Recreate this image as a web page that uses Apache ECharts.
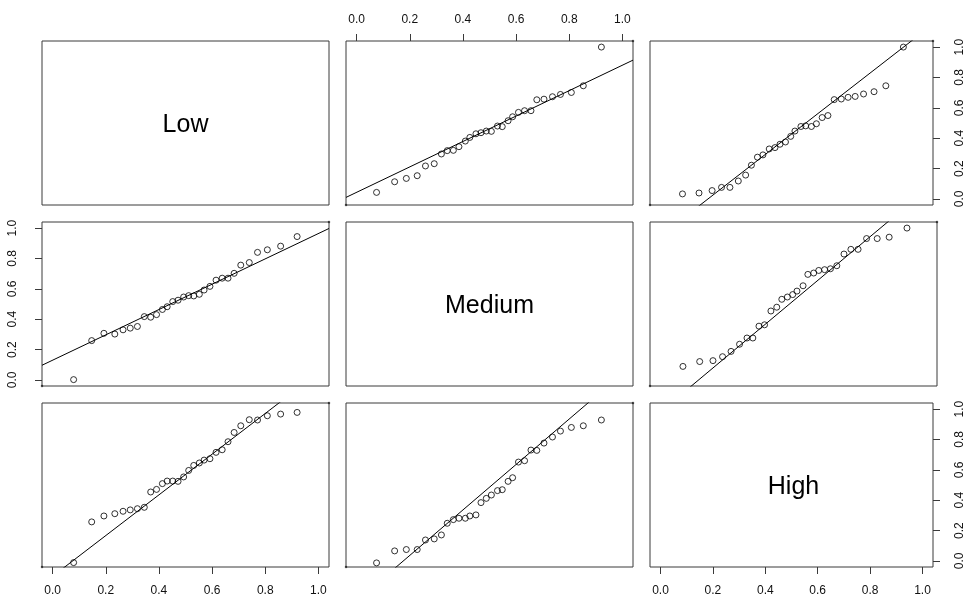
<!DOCTYPE html>
<html>
<head>
<meta charset="utf-8">
<script src="https://cdn.jsdelivr.net/npm/echarts@6/dist/echarts.min.js"></script>
<style>
html,body{margin:0;padding:0;background:#fff;}
#chart{width:966px;height:598px;}
</style>
</head>
<body>
<div id="chart"></div>
<script>
// ---- data ----
const variables = ['Low', 'Medium', 'High'];
const tickValues = [0, 0.2, 0.4, 0.6, 0.8, 1.0];
const axisRange = [-0.04, 1.04];

// x positions (sorted quantiles) shared by each column
const xLow = [0.079,0.147,0.193,0.234,0.265,0.292,0.319,0.345,0.369,0.391,0.413,0.431,0.452,0.472,0.493,0.512,0.531,0.552,0.570,0.592,0.615,0.638,0.660,0.683,0.708,0.740,0.771,0.808,0.858,0.920];
const xMedium = [0.075,0.143,0.187,0.228,0.259,0.292,0.319,0.341,0.364,0.385,0.409,0.426,0.449,0.468,0.488,0.507,0.530,0.548,0.570,0.587,0.609,0.632,0.656,0.678,0.705,0.737,0.767,0.808,0.853,0.921];
const xHigh = [0.084,0.147,0.197,0.233,0.265,0.297,0.325,0.347,0.370,0.391,0.415,0.437,0.456,0.477,0.497,0.513,0.536,0.554,0.576,0.595,0.617,0.639,0.663,0.690,0.716,0.743,0.775,0.815,0.860,0.927];

// y values per off-diagonal panel
const yLowVsMedium = [0.043,0.113,0.135,0.153,0.217,0.232,0.296,0.318,0.320,0.344,0.381,0.405,0.429,0.436,0.447,0.445,0.480,0.476,0.515,0.541,0.570,0.581,0.581,0.653,0.657,0.673,0.688,0.701,0.745,1.000];
const yLowVsHigh = [0.033,0.039,0.055,0.076,0.076,0.118,0.157,0.222,0.275,0.290,0.329,0.338,0.360,0.375,0.412,0.447,0.477,0.481,0.477,0.495,0.536,0.549,0.654,0.658,0.669,0.675,0.691,0.706,0.745,1.000];
const yMediumVsLow = [0.002,0.259,0.307,0.302,0.330,0.341,0.352,0.417,0.413,0.430,0.464,0.482,0.516,0.525,0.546,0.555,0.553,0.564,0.592,0.616,0.657,0.670,0.670,0.702,0.756,0.773,0.840,0.857,0.881,0.944];
const yMediumVsHigh = [0.089,0.121,0.127,0.153,0.188,0.235,0.276,0.276,0.354,0.363,0.454,0.479,0.531,0.546,0.562,0.585,0.620,0.695,0.704,0.721,0.726,0.732,0.752,0.829,0.860,0.860,0.931,0.931,0.940,1.000];
const yHighVsLow = [-0.011,0.257,0.296,0.311,0.327,0.336,0.344,0.353,0.454,0.471,0.509,0.526,0.526,0.524,0.553,0.596,0.629,0.645,0.664,0.673,0.715,0.732,0.785,0.846,0.890,0.930,0.928,0.956,0.967,0.978];
const yHighVsMedium = [-0.013,0.066,0.075,0.075,0.138,0.145,0.171,0.248,0.272,0.281,0.281,0.296,0.303,0.384,0.412,0.434,0.463,0.469,0.524,0.548,0.651,0.660,0.730,0.728,0.776,0.816,0.855,0.879,0.890,0.928];

// reference line of each panel: [intercept, slope]
const lineLowVsMedium = [0.0435, 0.837];
const lineLowVsHigh = [-0.243, 1.34];
const lineMediumVsLow = [0.13, 0.834];
const lineMediumVsHigh = [-0.209, 1.462];
const lineHighVsLow = [-0.101, 1.34];
const lineHighVsMedium = [-0.263, 1.497];

// tiny marks sitting at the panel corners
const cornerMarks = [-0.04, 1.04];

// ---- layout ----
const colLeft = [42, 346, 650];
const rowTop = [41, 222, 403];
const panelW = 287, panelH = 164;

const xCols = [xLow, xMedium, xHigh];
const panels = {
  '0-1': [yLowVsMedium, lineLowVsMedium],
  '0-2': [yLowVsHigh, lineLowVsHigh],
  '1-0': [yMediumVsLow, lineMediumVsLow],
  '1-2': [yMediumVsHigh, lineMediumVsHigh],
  '2-0': [yHighVsLow, lineHighVsLow],
  '2-1': [yHighVsMedium, lineHighVsMedium]
};

const FONT = '"Liberation Sans", Arial, sans-serif';
const grids = [], xAxes = [], yAxes = [], series = [], graphics = [];

function fmt(v) { return v.toFixed(1); }

let idx = 0;
for (let r = 0; r < 3; r++) {
  for (let c = 0; c < 3; c++) {
    grids.push({
      left: colLeft[c], top: rowTop[r], width: panelW, height: panelH,
      show: true, borderColor: '#3a3a3a', borderWidth: 1, backgroundColor: 'transparent',
      containLabel: false
    });
    let xPos = null;
    if (r === 0 && c === 1) xPos = 'top';
    if (r === 2 && (c === 0 || c === 2)) xPos = 'bottom';
    let yPos = null;
    if (r === 1 && c === 0) yPos = 'left';
    if ((r === 0 || r === 2) && c === 2) yPos = 'right';

    xAxes.push({
      type: 'value', gridIndex: idx, min: axisRange[0], max: axisRange[1],
      position: xPos || 'bottom',
      axisLine: { show: false, onZero: false },
      splitLine: { show: false },
      axisTick: { show: !!xPos, customValues: tickValues, length: 7, inside: false,
                  lineStyle: { color: '#3a3a3a', width: 1 } },
      axisLabel: { show: !!xPos, customValues: tickValues, formatter: fmt,
                   fontFamily: FONT, fontSize: 12, color: '#111',
                   margin: xPos === 'top' ? 15 : 18 }
    });
    yAxes.push({
      type: 'value', gridIndex: idx, min: axisRange[0], max: axisRange[1],
      position: yPos || 'left',
      axisLine: { show: false, onZero: false },
      splitLine: { show: false },
      axisTick: { show: !!yPos, customValues: tickValues, length: 7, inside: false,
                  lineStyle: { color: '#3a3a3a', width: 1 } },
      axisLabel: { show: !!yPos, customValues: tickValues, formatter: fmt, rotate: 90,
                   fontFamily: FONT, fontSize: 12, color: '#111',
                   margin: yPos === 'left' ? 23 : 21 }
    });

    if (r === c) {
      graphics.push({
        type: 'text',
        x: colLeft[c] + panelW / 2, y: rowTop[r] + panelH / 2 + 2.5,
        style: { text: variables[r], font: '25px ' + FONT, fill: '#000',
                 align: 'center', verticalAlign: 'middle' },
        silent: true
      });
    } else {
      const key = r + '-' + c;
      const ys = panels[key][0];
      const ln = panels[key][1];
      const xs = xCols[c];
      series.push({
        type: 'scatter', xAxisIndex: idx, yAxisIndex: idx,
        data: xs.map((x, i) => [x, ys[i]]),
        symbol: 'circle', symbolSize: 6,
        itemStyle: { color: 'rgba(0,0,0,0)', borderColor: '#000', borderWidth: 1 },
        silent: true, clip: true
      });
      series.push({
        type: 'scatter', xAxisIndex: idx, yAxisIndex: idx,
        data: [[cornerMarks[0], cornerMarks[0]], [cornerMarks[1], cornerMarks[1]]],
        symbol: 'circle', symbolSize: 2.5,
        itemStyle: { color: '#222' },
        silent: true, clip: true
      });
      series.push({
        type: 'line', xAxisIndex: idx, yAxisIndex: idx,
        data: axisRange.map(x => [x, ln[0] + ln[1] * x]),
        showSymbol: false, symbol: 'none',
        lineStyle: { color: '#000', width: 1 },
        silent: true, clip: true
      });
    }
    idx++;
  }
}

const chart = echarts.init(document.getElementById('chart'), null, { renderer: 'canvas' });
chart.setOption({
  animation: false,
  backgroundColor: '#fff',
  grid: grids,
  xAxis: xAxes,
  yAxis: yAxes,
  series: series,
  graphic: graphics
});
</script>
</body>
</html>
